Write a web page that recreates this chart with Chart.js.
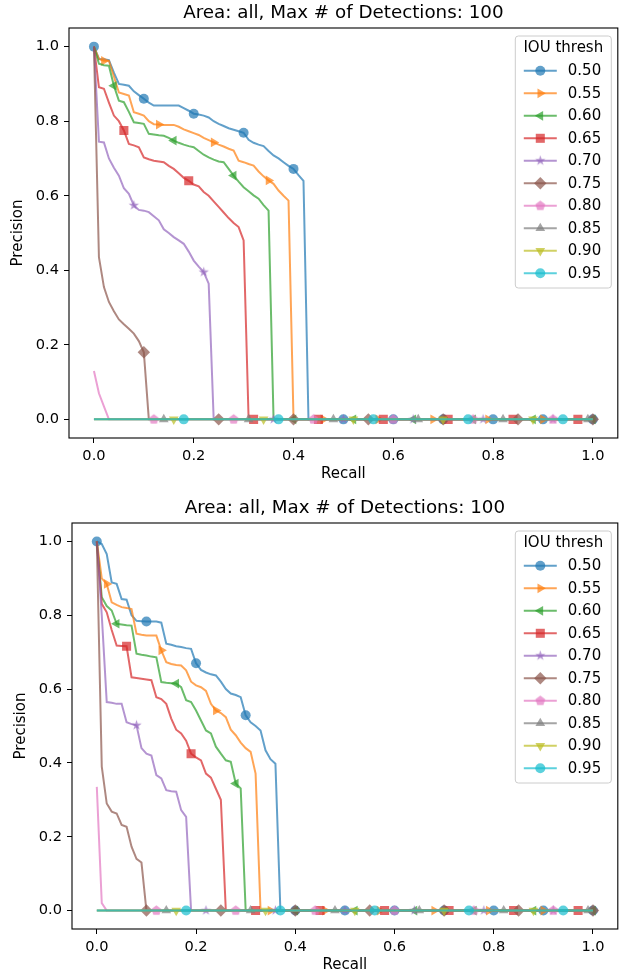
<!DOCTYPE html>
<html>
<head>
<meta charset="utf-8">
<script src="https://cdn.jsdelivr.net/npm/chart.js@4.4.0/dist/chart.umd.min.js"></script>
<style>
  html, body { margin: 0; padding: 0; background: #fff; }
  #wrap { position: relative; width: 624px; height: 977px; }
  .panel { position: absolute; left: 0; width: 624px; }
</style>
</head>
<body>
<div id="wrap">
  <div class="panel" style="top:0"><canvas id="prTop" width="624" height="488"></canvas></div>
  <div class="panel" style="top:488px"><canvas id="prBottom" width="624" height="489"></canvas></div>
</div>
<script>
// recall thresholds (x) and IOU thresholds (series)
const recall = [
  0,0.01,0.02,0.03,0.04,0.05,0.06,0.07,0.08,0.09,
  0.1,0.11,0.12,0.13,0.14,0.15,0.16,0.17,0.18,0.19,
  0.2,0.21,0.22,0.23,0.24,0.25,0.26,0.27,0.28,0.29,
  0.3,0.31,0.32,0.33,0.34,0.35,0.36,0.37,0.38,0.39,
  0.4,0.41,0.42,0.43,0.44,0.45,0.46,0.47,0.48,0.49,
  0.5,0.51,0.52,0.53,0.54,0.55,0.56,0.57,0.58,0.59,
  0.6,0.61,0.62,0.63,0.64,0.65,0.66,0.67,0.68,0.69,
  0.7,0.71,0.72,0.73,0.74,0.75,0.76,0.77,0.78,0.79,
  0.8,0.81,0.82,0.83,0.84,0.85,0.86,0.87,0.88,0.89,
  0.9,0.91,0.92,0.93,0.94,0.95,0.96,0.97,0.98,0.99,
  1.0
];
const iouThresh = ['0.50','0.55','0.60','0.65','0.70','0.75','0.80','0.85','0.90','0.95'];
const tickVals = [0, 0.2, 0.4, 0.6, 0.8, 1.0];
const chartTitle = 'Area: all, Max # of Detections: 100';

// ---- top plot precision ----
const top50 = [
  1.0,0.967,0.966,0.964,0.93,0.90,0.898,0.895,0.88,0.87,
  0.86,0.85,0.842,0.842,0.842,0.842,0.842,0.842,0.835,0.828,
  0.82,0.818,0.815,0.81,0.80,0.793,0.787,0.781,0.777,0.773,
  0.769,0.75,0.742,0.737,0.733,0.72,0.708,0.70,0.69,0.68,
  0.672,0.655,0.64,0,0,0,0,0,0,0,
  0,0,0,0,0,0,0,0,0,0,
  0,0,0,0,0,0,0,0,0,0,
  0,0,0,0,0,0,0,0,0,0,
  0,0,0,0,0,0,0,0,0,0,
  0,0,0,0,0,0,0,0,0,0,
  0
];
const top55 = [
  1.0,0.967,0.962,0.962,0.92,0.877,0.873,0.869,0.824,0.82,
  0.815,0.80,0.792,0.791,0.79,0.79,0.79,0.785,0.778,0.773,
  0.768,0.763,0.755,0.749,0.743,0.737,0.732,0.726,0.721,0.694,
  0.69,0.685,0.681,0.665,0.652,0.641,0.632,0.614,0.60,0.587,
  0,0,0,0,0,0,0,0,0,0,
  0,0,0,0,0,0,0,0,0,0,
  0,0,0,0,0,0,0,0,0,0,
  0,0,0,0,0,0,0,0,0,0,
  0,0,0,0,0,0,0,0,0,0,
  0,0,0,0,0,0,0,0,0,0,
  0
];
const top60 = [
  1.0,0.954,0.95,0.949,0.895,0.855,0.851,0.825,0.797,0.795,
  0.793,0.766,0.764,0.762,0.761,0.755,0.748,0.742,0.737,0.733,
  0.73,0.72,0.71,0.703,0.697,0.692,0.69,0.672,0.654,0.638,
  0.623,0.612,0.601,0.592,0.575,0.56,0,0,0,0,
  0,0,0,0,0,0,0,0,0,0,
  0,0,0,0,0,0,0,0,0,0,
  0,0,0,0,0,0,0,0,0,0,
  0,0,0,0,0,0,0,0,0,0,
  0,0,0,0,0,0,0,0,0,0,
  0,0,0,0,0,0,0,0,0,0,
  0
];
const top65 = [
  1.0,0.891,0.887,0.85,0.815,0.80,0.775,0.739,0.735,0.73,
  0.703,0.698,0.694,0.692,0.69,0.68,0.672,0.66,0.648,0.64,
  0.63,0.625,0.61,0.60,0.585,0.57,0.555,0.54,0.527,0.516,
  0.48,0,0,0,0,0,0,0,0,0,
  0,0,0,0,0,0,0,0,0,0,
  0,0,0,0,0,0,0,0,0,0,
  0,0,0,0,0,0,0,0,0,0,
  0,0,0,0,0,0,0,0,0,0,
  0,0,0,0,0,0,0,0,0,0,
  0,0,0,0,0,0,0,0,0,0,
  0
];
const top70 = [
  1.0,0.745,0.743,0.70,0.675,0.654,0.62,0.605,0.574,0.562,
  0.56,0.556,0.545,0.534,0.51,0.50,0.489,0.48,0.471,0.45,
  0.426,0.41,0.395,0.364,0,0,0,0,0,0,
  0,0,0,0,0,0,0,0,0,0,
  0,0,0,0,0,0,0,0,0,0,
  0,0,0,0,0,0,0,0,0,0,
  0,0,0,0,0,0,0,0,0,0,
  0,0,0,0,0,0,0,0,0,0,
  0,0,0,0,0,0,0,0,0,0,
  0,0,0,0,0,0,0,0,0,0,
  0
];
const top75 = [
  1.0,0.435,0.355,0.315,0.29,0.268,0.255,0.243,0.23,0.21,
  0.18,0,0,0,0,0,0,0,0,0,
  0,0,0,0,0,0,0,0,0,0,
  0,0,0,0,0,0,0,0,0,0,
  0,0,0,0,0,0,0,0,0,0,
  0,0,0,0,0,0,0,0,0,0,
  0,0,0,0,0,0,0,0,0,0,
  0,0,0,0,0,0,0,0,0,0,
  0,0,0,0,0,0,0,0,0,0,
  0,0,0,0,0,0,0,0,0,0,
  0
];
const top80 = [
  0.13,0.07,0.035,0,0,0,0,0,0,0,
  0,0,0,0,0,0,0,0,0,0,
  0,0,0,0,0,0,0,0,0,0,
  0,0,0,0,0,0,0,0,0,0,
  0,0,0,0,0,0,0,0,0,0,
  0,0,0,0,0,0,0,0,0,0,
  0,0,0,0,0,0,0,0,0,0,
  0,0,0,0,0,0,0,0,0,0,
  0,0,0,0,0,0,0,0,0,0,
  0,0,0,0,0,0,0,0,0,0,
  0
];
const top85 = [
  0,0,0,0,0,0,0,0,0,0, 0,0,0,0,0,0,0,0,0,0,
  0,0,0,0,0,0,0,0,0,0, 0,0,0,0,0,0,0,0,0,0,
  0,0,0,0,0,0,0,0,0,0, 0,0,0,0,0,0,0,0,0,0,
  0,0,0,0,0,0,0,0,0,0, 0,0,0,0,0,0,0,0,0,0,
  0,0,0,0,0,0,0,0,0,0, 0,0,0,0,0,0,0,0,0,0,
  0
];
const top90 = [
  0,0,0,0,0,0,0,0,0,0, 0,0,0,0,0,0,0,0,0,0,
  0,0,0,0,0,0,0,0,0,0, 0,0,0,0,0,0,0,0,0,0,
  0,0,0,0,0,0,0,0,0,0, 0,0,0,0,0,0,0,0,0,0,
  0,0,0,0,0,0,0,0,0,0, 0,0,0,0,0,0,0,0,0,0,
  0,0,0,0,0,0,0,0,0,0, 0,0,0,0,0,0,0,0,0,0,
  0
];
const top95 = [
  0,0,0,0,0,0,0,0,0,0, 0,0,0,0,0,0,0,0,0,0,
  0,0,0,0,0,0,0,0,0,0, 0,0,0,0,0,0,0,0,0,0,
  0,0,0,0,0,0,0,0,0,0, 0,0,0,0,0,0,0,0,0,0,
  0,0,0,0,0,0,0,0,0,0, 0,0,0,0,0,0,0,0,0,0,
  0,0,0,0,0,0,0,0,0,0, 0,0,0,0,0,0,0,0,0,0,
  0
];

// ---- bottom plot precision ----
const bot50 = [
  1.0,0.993,0.966,0.889,0.885,0.844,0.842,0.80,0.785,0.784,
  0.783,0.783,0.783,0.78,0.723,0.72,0.716,0.714,0.711,0.709,
  0.67,0.652,0.645,0.64,0.637,0.62,0.60,0.588,0.584,0.578,
  0.529,0.51,0.50,0.488,0.434,0.41,0.398,0,0,0,
  0,0,0,0,0,0,0,0,0,0,
  0,0,0,0,0,0,0,0,0,0,
  0,0,0,0,0,0,0,0,0,0,
  0,0,0,0,0,0,0,0,0,0,
  0,0,0,0,0,0,0,0,0,0,
  0,0,0,0,0,0,0,0,0,0,
  0
];
const bot55 = [
  1.0,0.90,0.885,0.835,0.828,0.822,0.82,0.817,0.75,0.747,
  0.745,0.745,0.745,0.705,0.673,0.668,0.665,0.664,0.651,0.62,
  0.61,0.605,0.595,0.56,0.542,0.535,0.524,0.49,0.475,0.455,
  0.44,0.43,0.371,0,0,0,0,0,0,0,
  0,0,0,0,0,0,0,0,0,0,
  0,0,0,0,0,0,0,0,0,0,
  0,0,0,0,0,0,0,0,0,0,
  0,0,0,0,0,0,0,0,0,0,
  0,0,0,0,0,0,0,0,0,0,
  0,0,0,0,0,0,0,0,0,0,
  0
];
const bot60 = [
  1.0,0.849,0.825,0.813,0.777,0.775,0.773,0.772,0.696,0.693,
  0.691,0.688,0.686,0.619,0.617,0.616,0.615,0.605,0.57,0.565,
  0.542,0.515,0.488,0.48,0.444,0.425,0.407,0.403,0.344,0.331,
  0,0,0,0,0,0,0,0,0,0,
  0,0,0,0,0,0,0,0,0,0,
  0,0,0,0,0,0,0,0,0,0,
  0,0,0,0,0,0,0,0,0,0,
  0,0,0,0,0,0,0,0,0,0,
  0,0,0,0,0,0,0,0,0,0,
  0,0,0,0,0,0,0,0,0,0,
  0
];
const bot65 = [
  1.0,0.831,0.808,0.76,0.718,0.717,0.716,0.632,0.63,0.628,
  0.626,0.624,0.578,0.573,0.56,0.52,0.49,0.48,0.46,0.425,
  0.415,0.407,0.371,0.36,0.33,0.30,0,0,0,0,
  0,0,0,0,0,0,0,0,0,0,
  0,0,0,0,0,0,0,0,0,0,
  0,0,0,0,0,0,0,0,0,0,
  0,0,0,0,0,0,0,0,0,0,
  0,0,0,0,0,0,0,0,0,0,
  0,0,0,0,0,0,0,0,0,0,
  0,0,0,0,0,0,0,0,0,0,
  0
];
const bot70 = [
  1.0,0.80,0.565,0.563,0.56,0.56,0.51,0.505,0.502,0.44,
  0.425,0.42,0.367,0.358,0.326,0.323,0.322,0.272,0.254,0,
  0,0,0,0,0,0,0,0,0,0,
  0,0,0,0,0,0,0,0,0,0,
  0,0,0,0,0,0,0,0,0,0,
  0,0,0,0,0,0,0,0,0,0,
  0,0,0,0,0,0,0,0,0,0,
  0,0,0,0,0,0,0,0,0,0,
  0,0,0,0,0,0,0,0,0,0,
  0,0,0,0,0,0,0,0,0,0,
  0
];
const bot75 = [
  1.0,0.39,0.29,0.268,0.263,0.232,0.227,0.173,0.14,0.13,
  0,0,0,0,0,0,0,0,0,0,
  0,0,0,0,0,0,0,0,0,0,
  0,0,0,0,0,0,0,0,0,0,
  0,0,0,0,0,0,0,0,0,0,
  0,0,0,0,0,0,0,0,0,0,
  0,0,0,0,0,0,0,0,0,0,
  0,0,0,0,0,0,0,0,0,0,
  0,0,0,0,0,0,0,0,0,0,
  0,0,0,0,0,0,0,0,0,0,
  0
];
const bot80 = [
  0.335,0.02,0,0,0,0,0,0,0,0,
  0,0,0,0,0,0,0,0,0,0,
  0,0,0,0,0,0,0,0,0,0,
  0,0,0,0,0,0,0,0,0,0,
  0,0,0,0,0,0,0,0,0,0,
  0,0,0,0,0,0,0,0,0,0,
  0,0,0,0,0,0,0,0,0,0,
  0,0,0,0,0,0,0,0,0,0,
  0,0,0,0,0,0,0,0,0,0,
  0,0,0,0,0,0,0,0,0,0,
  0
];
const bot85 = [
  0,0,0,0,0,0,0,0,0,0, 0,0,0,0,0,0,0,0,0,0,
  0,0,0,0,0,0,0,0,0,0, 0,0,0,0,0,0,0,0,0,0,
  0,0,0,0,0,0,0,0,0,0, 0,0,0,0,0,0,0,0,0,0,
  0,0,0,0,0,0,0,0,0,0, 0,0,0,0,0,0,0,0,0,0,
  0,0,0,0,0,0,0,0,0,0, 0,0,0,0,0,0,0,0,0,0,
  0
];
const bot90 = [
  0,0,0,0,0,0,0,0,0,0, 0,0,0,0,0,0,0,0,0,0,
  0,0,0,0,0,0,0,0,0,0, 0,0,0,0,0,0,0,0,0,0,
  0,0,0,0,0,0,0,0,0,0, 0,0,0,0,0,0,0,0,0,0,
  0,0,0,0,0,0,0,0,0,0, 0,0,0,0,0,0,0,0,0,0,
  0,0,0,0,0,0,0,0,0,0, 0,0,0,0,0,0,0,0,0,0,
  0
];
const bot95 = [
  0,0,0,0,0,0,0,0,0,0, 0,0,0,0,0,0,0,0,0,0,
  0,0,0,0,0,0,0,0,0,0, 0,0,0,0,0,0,0,0,0,0,
  0,0,0,0,0,0,0,0,0,0, 0,0,0,0,0,0,0,0,0,0,
  0,0,0,0,0,0,0,0,0,0, 0,0,0,0,0,0,0,0,0,0,
  0,0,0,0,0,0,0,0,0,0, 0,0,0,0,0,0,0,0,0,0,
  0
];

// ---- styling ----
const FONT = '"DejaVu Sans", sans-serif';
const colors = ['#1f77b4','#ff7f0e','#2ca02c','#d62728','#9467bd','#8c564b','#e377c2','#7f7f7f','#bcbd22','#17becf'];
const ALPHA = 0.7;

function rgba(hex, a) {
  const n = parseInt(hex.slice(1), 16);
  return 'rgba(' + (n >> 16) + ',' + ((n >> 8) & 255) + ',' + (n & 255) + ',' + a + ')';
}

// filled star / pentagon markers (Chart.js has no filled version of these)
function polyMarker(kind, color) {
  const c = document.createElement('canvas');
  c.width = 13; c.height = 13;
  const g = c.getContext('2d');
  g.translate(6.5, 6.5);
  g.beginPath();
  if (kind === 'star') {
    for (let k = 0; k < 10; k++) {
      const r = k % 2 ? 2.1 : 5.4;
      const a = -Math.PI / 2 + k * Math.PI / 5;
      g.lineTo(r * Math.cos(a), r * Math.sin(a));
    }
  } else {
    for (let k = 0; k < 5; k++) {
      const a = -Math.PI / 2 + k * 2 * Math.PI / 5;
      g.lineTo(5.2 * Math.cos(a), 5.2 * Math.sin(a));
    }
  }
  g.closePath();
  g.fillStyle = color;
  g.fill();
  return c;
}

const markers = [
  { style: 'circle', rot: 0, r: 5 },
  { style: 'triangle', rot: 90, r: 5.6 },
  { style: 'triangle', rot: -90, r: 5.6 },
  { style: 'rect', rot: 0, r: 6.4 },
  { style: polyMarker('star', rgba(colors[4], ALPHA)), rot: 0, r: 5 },
  { style: 'rectRot', rot: 0, r: 6.2 },
  { style: polyMarker('pent', rgba(colors[6], ALPHA)), rot: 0, r: 5 },
  { style: 'triangle', rot: 0, r: 5.6 },
  { style: 'triangle', rot: 180, r: 5.6 },
  { style: 'circle', rot: 0, r: 5 }
];

function buildDatasets(series) {
  return series.map((vals, i) => {
    const start = 2 * i, step = 10 + i;
    return {
      label: iouThresh[i],
      data: recall.map((r, k) => ({ x: r, y: vals[k] })),
      borderColor: rgba(colors[i], ALPHA),
      backgroundColor: rgba(colors[i], ALPHA),
      borderWidth: 2,
      tension: 0,
      fill: false,
      order: series.length - 1 - i,
      pointStyle: markers[i].style,
      pointRotation: markers[i].rot,
      pointBorderWidth: 0,
      pointHoverRadius: 0,
      pointRadius: ctx => {
        const k = ctx.dataIndex - start;
        return k >= 0 && k % step === 0 ? markers[i].r : 0;
      }
    };
  });
}

// axes frame + title centred over the plot area (like matplotlib)
const framePlugin = {
  id: 'frame',
  afterDatasetsDraw(chart) {
    const { ctx, chartArea: a } = chart;
    ctx.save();
    ctx.strokeStyle = '#000';
    ctx.lineWidth = 1.1;
    ctx.strokeRect(a.left, a.top, a.right - a.left, a.bottom - a.top);
    ctx.fillStyle = '#000';
    ctx.font = '18.3px ' + FONT;
    ctx.textAlign = 'center';
    ctx.textBaseline = 'alphabetic';
    ctx.fillText(chartTitle, (a.left + a.right) / 2, a.top - 9.7);
    ctx.restore();
  }
};

const legendPlugin = {
  id: 'iouLegend',
  afterDraw(chart) {
    const { ctx, chartArea: a } = chart;
    const w = 96, h = 252;
    const left = a.right - 7 - w, top = a.top + 7.5;
    ctx.save();
    ctx.fillStyle = 'rgba(255,255,255,0.8)';
    ctx.strokeStyle = '#cccccc';
    ctx.lineWidth = 1;
    ctx.beginPath();
    ctx.roundRect(left + 0.5, top + 0.5, w, h, 3);
    ctx.fill();
    ctx.stroke();

    ctx.fillStyle = '#000';
    ctx.font = '15px ' + FONT;
    ctx.textBaseline = 'middle';
    ctx.textAlign = 'center';
    ctx.fillText('IOU thresh', left + w / 2 + 0.5, top + 12.5);
    ctx.textAlign = 'left';
    chart.data.datasets.forEach((ds, i) => {
      const y = top + 35.3 + 22.5 * i;
      ctx.strokeStyle = ds.borderColor;
      ctx.lineWidth = 2;
      ctx.beginPath();
      ctx.moveTo(left + 9, y);
      ctx.lineTo(left + 42, y);
      ctx.stroke();
      ctx.fillStyle = ds.backgroundColor;
      Chart.helpers.drawPoint(ctx, {
        pointStyle: markers[i].style, rotation: markers[i].rot,
        radius: markers[i].r, borderWidth: 0
      }, left + 25.5, y);
      ctx.fillStyle = '#000';
      ctx.fillText(ds.label, left + 53, y + 0.5);
    });
    ctx.restore();
  }
};

function makeChart(id, series, lay) {
  const axisCommon = {
    type: 'linear',
    min: -0.05,
    max: 1.05,
    afterBuildTicks: s => { s.ticks = tickVals.map(v => ({ value: v })); },
    grid: { display: true, drawOnChartArea: false, drawTicks: true, tickLength: 5, color: '#000', lineWidth: 1 },
    border: { display: false },
    ticks: { color: '#000', font: { family: FONT, size: 14.6 }, callback: v => v.toFixed(1), maxRotation: 0 }
  };
  return new Chart(document.getElementById(id), {
    type: 'line',
    data: { datasets: buildDatasets(series) },
    options: {
      responsive: false,
      animation: false,
      layout: { padding: { left: 0, right: 6, top: lay.areaTop, bottom: 0 } },
      plugins: {
        legend: { display: false },
        tooltip: { enabled: false },
        title: { display: false }
      },
      scales: {
        x: Object.assign({}, axisCommon, {
          position: 'bottom',
          afterFit: s => { s.height = lay.xHeight; },
          ticks: Object.assign({}, axisCommon.ticks, { padding: 4 }),
          title: { display: true, text: 'Recall', color: '#000', font: { family: FONT, size: 15 }, padding: { top: 0, bottom: lay.xTitlePad } }
        }),
        y: Object.assign({}, axisCommon, {
          position: 'left',
          afterFit: s => { s.width = lay.yWidth; },
          ticks: Object.assign({}, axisCommon.ticks, { padding: 5 }),
          title: { display: true, text: 'Precision', color: '#000', font: { family: FONT, size: 15 }, padding: { top: lay.yTitlePad, bottom: 0 } }
        })
      }
    },
    plugins: [framePlugin, legendPlugin]
  });
}

makeChart('prTop',
  [top50, top55, top60, top65, top70, top75, top80, top85, top90, top95],
  { areaTop: 28, xHeight: 50, xTitlePad: 5, yWidth: 69, yTitlePad: 9 });

makeChart('prBottom',
  [bot50, bot55, bot60, bot65, bot70, bot75, bot80, bot85, bot90, bot95],
  { areaTop: 35, xHeight: 48, xTitlePad: 2.5, yWidth: 72, yTitlePad: 12 });
</script>
</body>
</html>
